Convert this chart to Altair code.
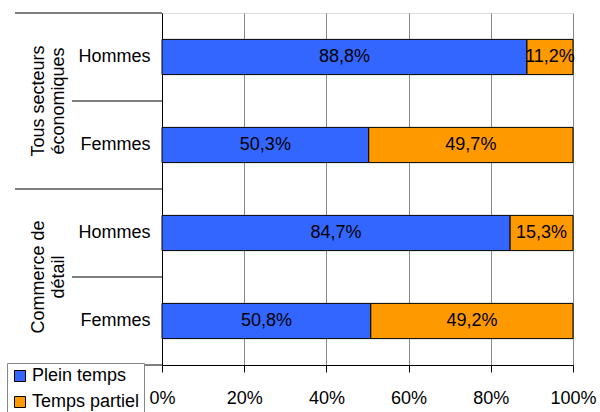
import altair as alt
import pandas as pd

# Source values (percent of employed people)
groups = ["Tous secteurs\néconomiques", "Commerce de\ndétail"]
sexes = ["Hommes", "Femmes", "Hommes", "Femmes"]
plein_temps = [88.8, 50.3, 84.7, 50.8]
temps_partiel = [11.2, 49.7, 15.3, 49.2]
series = ["Plein temps", "Temps partiel"]
colors = ["#3366FF", "#FF9900"]
ticks = [0, 20, 40, 60, 80, 100]

FONT = "Liberation Sans"
FS = 18

keys = [f"{i}|{s}" for i, s in enumerate(sexes)]

rows = []
for key, p, t in zip(keys, plein_temps, temps_partiel):
    for name, start, val in ((series[0], 0.0, p), (series[1], p, t)):
        rows.append({
            "key": key,
            "serie": name,
            "start": start,
            "end": start + val,
            "mid": start + val / 2,
            "label": f"{val:.1f}".replace(".", ",") + "%",
        })
bars_df = pd.DataFrame(rows)

y_enc = alt.Y(
    "key:N",
    sort=keys,
    scale=alt.Scale(paddingInner=0.6, paddingOuter=0.3),
    axis=alt.Axis(
        title=None,
        labelExpr="split(datum.label, '|')[1]",
        ticks=False,
        tickSize=0,
        labelPadding=12,
        labelFontSize=FS,
        labelColor="black",
        labelFont=FONT,
        domainColor="black",
        grid=False,
    ),
)

x_scale = alt.Scale(domain=[0, 100], nice=False)

bars = alt.Chart(bars_df).mark_bar(stroke="black", strokeWidth=1).encode(
    x=alt.X(
        "start:Q",
        scale=x_scale,
        axis=alt.Axis(
            title=None,
            values=ticks,
            labelExpr="datum.value + '%'",
            labelFlush=False,
            labelFontSize=FS,
            labelFont=FONT,
            labelColor="black",
            labelPadding=17,
            tickColor="black",
            tickSize=7,
            domainColor="black",
            gridColor="#888888",
        ),
    ),
    x2="end:Q",
    y=y_enc,
    color=alt.Color(
        "serie:N",
        scale=alt.Scale(domain=series, range=colors),
        legend=alt.Legend(
            title=None,
            orient="none",
            legendX=-155,
            legendY=350,
            symbolType="square",
            symbolSize=121,
            symbolStrokeColor="black",
            symbolStrokeWidth=1,
            symbolOpacity=1,
            labelFontSize=FS,
            labelFont=FONT,
            labelColor="black",
            strokeColor="#888888",
            fillColor="white",
            padding=4,
            rowPadding=8,
            labelOffset=3,
        ),
    ),
)

labels = alt.Chart(bars_df).mark_text(
    fontSize=FS, font=FONT, color="black", baseline="middle", align="center"
).encode(
    x=alt.X("mid:Q", scale=x_scale),
    y=alt.Y("key:N", sort=keys),
    text="label:N",
)

# Row separators of the two-level category axis
sep_df = pd.DataFrame({"pos": [0, 1, 2, 3, 4], "xs": [-147, -90, -147, -90, -147]})
y_rows = alt.Y("pos:Q", scale=alt.Scale(domain=[0, 4], reverse=True, nice=False), axis=None)
separators = alt.Chart(sep_df).mark_rule(color="black", strokeWidth=1).encode(
    x=alt.X("xs:Q", scale=None),
    x2=alt.value(0),
    y=y_rows,
)

grp_df = pd.DataFrame({"pos": [1.0, 3.0], "name": groups})
group_labels = alt.Chart(grp_df).mark_text(
    angle=270, fontSize=FS, font=FONT, color="black", align="center",
    baseline="middle", lineBreak="\n", lineHeight=20,
).encode(
    x=alt.value(-123),
    y=y_rows,
    text="name:N",
)

chart = alt.layer(
    alt.layer(bars, labels),
    alt.layer(separators, group_labels),
).resolve_scale(y="independent").properties(
    width=411,
    height=352,
    autosize=alt.AutoSizeParams(type="none"),
    padding={"left": 162, "top": 13, "right": 27, "bottom": 47},
).configure_view(stroke="#888888").configure(font=FONT)

chart.save("out.html", embed_options={"renderer": "svg", "actions": False})
